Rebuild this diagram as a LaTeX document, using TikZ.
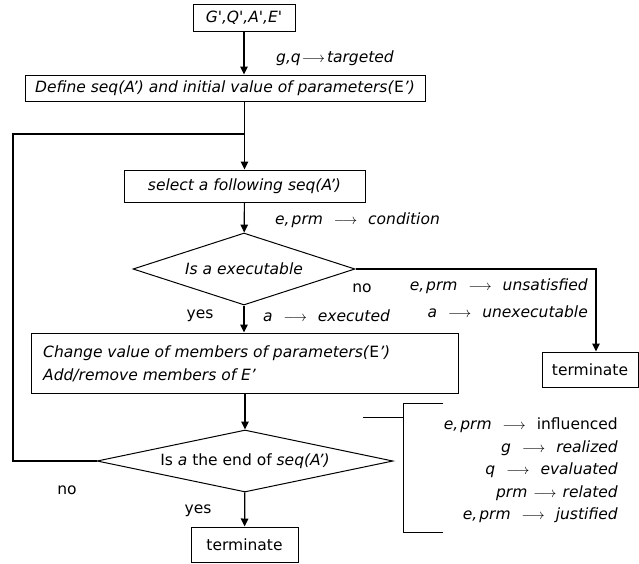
\documentclass[tikz,border=0pt]{standalone}
\usepackage{fontspec}
\setmainfont{DejaVu Sans}[Ligatures=TeXOff]
\usetikzlibrary{shapes.geometric,arrows.meta}
% arrow between a name and its state: tight, medium and spaced forms
\newcommand{\ra}{\hspace{1pt}$\longrightarrow$\hspace{2pt}}
\newcommand{\rmid}{\hspace{6pt}$\longrightarrow$\hspace{6pt}}
\newcommand{\rb}{\hspace{11pt}$\longrightarrow$\hspace{11pt}}
\newcommand{\eprm}{e,\hspace{2pt}prm}
\begin{document}
\begin{tikzpicture}[x=1pt,y=-1pt,
  font=\fontsize{15.5}{18}\selectfont,
  box/.style={draw, line width=1pt, inner sep=0pt},
  dec/.style={draw, diamond, line width=1pt, inner sep=0pt},
  flow/.style={line width=1.2pt, -{Triangle[length=8pt,width=7.5pt]}},
  link/.style={line width=1.2pt},
  lbl/.style={inner sep=0pt, font=\fontsize{15.5}{18}\selectfont\itshape}]
\useasboundingbox (0,0) rectangle (639,563);

% main column
\node[box, minimum width=102, minimum height=27] (inp) at (244,17.5) {\itshape G',Q',A',E'};
\node[box, minimum width=400, minimum height=26] (def) at (225,88)
  {\itshape Define seq(A’) and initial value of parameters(\textup{E}’)};
\node[box, minimum width=241, minimum height=32] (sel) at (244.5,186)
  {\itshape select a following seq(A’)};
\node[dec, aspect=3.1, minimum width=222, minimum height=72] (exe) at (244,269)
  {\itshape Is a executable};
\node[box, minimum width=427, minimum height=60] (chg) at (244.5,363) {};
\node[lbl, anchor=west] (chg1) at (43,353) {Change value of members of parameters(\textup{E}’)};
\node[lbl, anchor=west] (chg2) at (43,375) {Add/remove members of E’};
\node[dec, aspect=4.8, minimum width=296, minimum height=62] (end) at (245,461)
  {Is \textit{a} the end of \textit{seq(A’)}};
\node[box, minimum width=107, minimum height=35] (stop) at (244.5,544.5) {terminate};
\node[box, minimum width=96, minimum height=35] (fail) at (590,369.5) {terminate};

% connectors
\coordinate (join) at (244,134);
\coordinate (back) at (13,134);
\draw[flow] (inp) -- (def.north -| inp);
\draw[flow] (def.south -| sel) -- (sel);
\draw[flow] (sel) -- (exe);
\draw[flow] (exe) -- (chg.north -| exe);
\draw[flow] (chg.south -| end) -- (end);
\draw[flow] (end) -- (stop);
\draw[flow] (exe.east) -| ([xshift=6pt]fail.north);
\draw[link] (end.west) -| (back) -- (join);

% bracket of effects
\coordinate (bt) at (443,403);
\coordinate (bb) at (443,532);
\coordinate (bs) at (363,417);
\draw[line width=1pt] (bt) -| (403,532) -- (bb);
\draw[line width=1pt] (bs) -- (403,417);

% labels
\node[lbl, anchor=west] (l1) at (276,58) {g,q\ra targeted};
\node[lbl, anchor=west] (l2) at (275,220) {\eprm\rb condition};
\node[inner sep=0pt] (no1) at (362,288) {no};
\node[lbl, anchor=east] (l3) at (588,286) {\eprm\rb unsatisfied};
\node[lbl, anchor=east] (l4) at (588,312) {a\rb unexecutable};
\node[inner sep=0pt] (yes1) at (200,316) {yes};
\node[lbl, anchor=west] (l5) at (263,316) {a\rb executed};
\node[inner sep=0pt] (no2) at (67,490) {no};
\node[inner sep=0pt] (yes2) at (198,511) {yes};
\node[lbl, anchor=east] (r1) at (618,425) {\eprm\rb \textup{influenced}};
\node[lbl, anchor=east] (r2) at (618,448) {g\rb realized};
\node[lbl, anchor=east] (r3) at (618,470) {q\rb evaluated};
\node[lbl, anchor=east] (r4) at (618,493) {prm\rmid related};
\node[lbl, anchor=east] (r5) at (618,515) {\eprm\rb justified};
\end{tikzpicture}
\end{document}
